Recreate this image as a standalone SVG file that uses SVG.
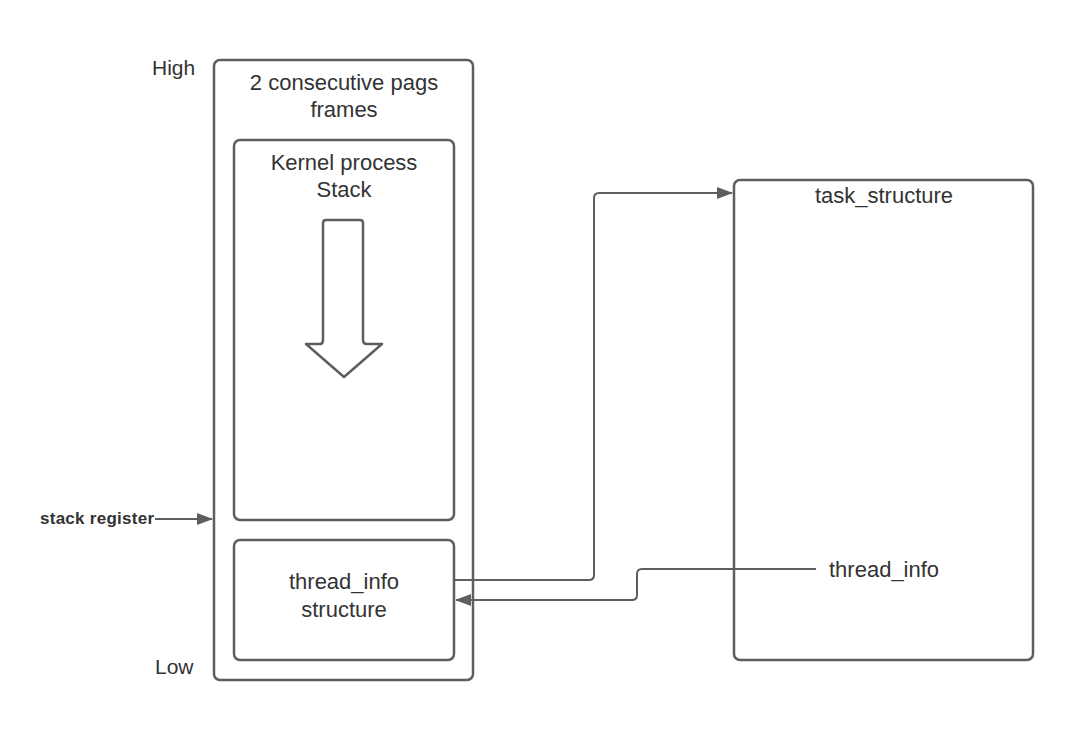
<svg xmlns="http://www.w3.org/2000/svg" width="1074" height="740" viewBox="0 0 1074 740">
<style>
.box{fill:#fff;stroke:#5e5e5e;stroke-width:2.5}
.ln{fill:none;stroke:#5e5e5e;stroke-width:2}
.t{font-family:"Liberation Sans",Arial,sans-serif;font-size:22px;fill:#333}
.c{text-anchor:middle}
.s{font-size:21px}
.b{font-weight:bold;font-size:17px}
</style>
<defs>
<marker id="ah" markerWidth="16" markerHeight="12" refX="15" refY="6" orient="auto" markerUnits="userSpaceOnUse">
<path d="M0,0 L16,6 L0,12 Z" fill="#5e5e5e"/>
</marker>
</defs>
<rect width="1074" height="740" fill="#fff"/>
<g id="outer">
<rect class="box" x="214" y="60" width="259" height="620" rx="6"/>
<text class="t c" x="344" y="90">2 consecutive pags</text>
<text class="t c" x="344" y="117">frames</text>
</g>
<g id="kernel-stack">
<rect class="box" x="234" y="140" width="220" height="380" rx="6"/>
<text class="t c" x="344" y="170">Kernel process</text>
<text class="t c" x="344" y="197">Stack</text>
<path class="box" d="M326,220 L360,220 Q363,220 363,223 L363,340 Q363,344 367,344 L382,344 L344,377 L306,344 L320,344 Q323,344 323,340 L323,223 Q323,220 326,220 Z" stroke-linejoin="round"/>
</g>
<g id="thread-info-structure">
<rect class="box" x="234" y="540" width="220" height="120" rx="6"/>
<text class="t c" x="344" y="589">thread_info</text>
<text class="t c" x="344" y="617">structure</text>
</g>
<g id="task-structure">
<rect class="box" x="734" y="180" width="299" height="480" rx="6"/>
<text class="t c" x="884" y="203">task_structure</text>
<text class="t" x="829" y="577">thread_info</text>
</g>
<g id="labels">
<text class="t s" x="152" y="75">High</text>
<text class="t s" x="155" y="674">Low</text>
<text class="t b" x="40" y="524" textLength="114" lengthAdjust="spacing">stack register</text>
</g>
<g id="connectors">
<path class="ln" d="M155,519 L212,519" marker-end="url(#ah)"/>
<path class="ln" d="M455,580 L589,580 Q594,580 594,575 L594,198 Q594,193 599,193 L732,193" marker-end="url(#ah)"/>
<path class="ln" d="M816,569 L642,569 Q637,569 637,574 L637,595 Q637,600 632,600 L456,600" marker-end="url(#ah)"/>
</g>
</svg>
